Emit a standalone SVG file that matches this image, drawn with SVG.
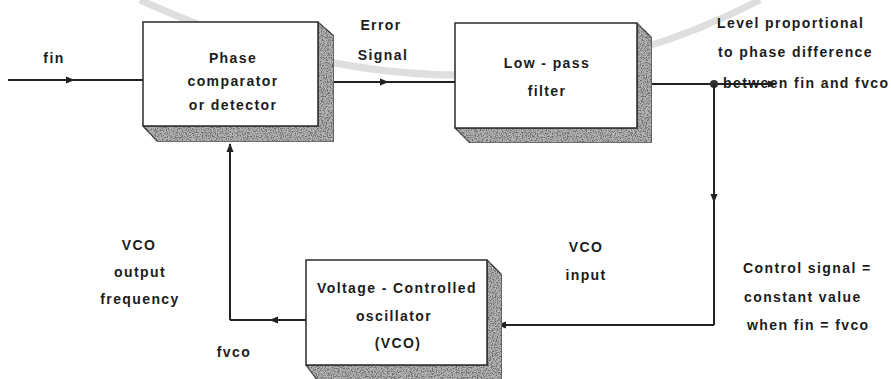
<svg xmlns="http://www.w3.org/2000/svg" width="891" height="379" viewBox="0 0 891 379">
<style>
.t{font-family:"Liberation Sans",Arial,sans-serif;font-size:14px;font-weight:bold;fill:#1c1c1c;letter-spacing:1.4px}
.c{text-anchor:middle}
.box{fill:#fff;stroke:#2a2a2a;stroke-width:1.5}
.shd{fill:#b4b4b4;stroke:#2a2a2a;stroke-width:1.2;filter:url(#speckle)}
.wire{fill:none;stroke:#222;stroke-width:2}
</style>
<defs>
<filter id="speckle" x="0" y="0" width="100%" height="100%">
<feTurbulence type="fractalNoise" baseFrequency="0.8" numOctaves="2" seed="7" result="n"/>
<feColorMatrix in="n" type="matrix" values="0 0 0 0 0.15  0 0 0 0 0.15  0 0 0 0 0.15  0 0 0 -4 2.3" result="d"/>
<feComposite in="d" in2="SourceGraphic" operator="in" result="dk"/>
<feMerge><feMergeNode in="SourceGraphic"/><feMergeNode in="dk"/></feMerge>
</filter>
<marker id="ah" markerWidth="10" markerHeight="8" refX="8" refY="4" orient="auto" markerUnits="userSpaceOnUse">
<path d="M0,0.5 L9,4 L0,7.5 Z" fill="#222"/>
</marker>
</defs>
<path d="M140,0 Q470,150 760,0" fill="none" stroke="#dedede" stroke-width="7"/>
<g id="connectors">
<path class="wire" d="M8,80 L74,80 L143,80" marker-mid="url(#ah)"/>
<path class="wire" d="M334,82 L388,82 L455,82" marker-mid="url(#ah)"/>
<path class="wire" d="M652,84 L776,84" marker-end="url(#ah)"/>
<circle cx="714" cy="84" r="4" fill="#333"/>
<path class="wire" d="M714,84 L714,202 L714,325" marker-mid="url(#ah)"/>
<path class="wire" d="M714,325 L498,325" marker-end="url(#ah)"/>
<path class="wire" d="M306,320 L270,320 L230,320" marker-mid="url(#ah)"/>
<path class="wire" d="M230,320 L230,144" marker-end="url(#ah)"/>
</g>
<g id="phase-comparator">
<path class="shd" d="M318,22 L334,36 L334,142 L158,142 L143,126 L318,126 Z"/>
<rect class="box" x="143" y="22" width="175" height="104"/>
<text class="t c" x="233" y="63">Phase</text>
<text class="t c" x="233" y="86">comparator</text>
<text class="t c" x="233" y="110">or detector</text>
</g>
<g id="low-pass-filter">
<path class="shd" d="M637,23 L652,38 L652,143 L470,143 L455,128 L637,128 Z"/>
<rect class="box" x="455" y="23" width="182" height="105"/>
<text class="t c" x="547" y="68">Low - pass</text>
<text class="t c" x="547" y="96">filter</text>
</g>
<g id="vco">
<path class="shd" d="M487,260 L502,275 L502,385 L321,385 L306,365 L487,365 Z"/>
<rect class="box" x="306" y="260" width="181" height="105"/>
<text class="t c" x="397" y="293">Voltage - Controlled</text>
<text class="t c" x="394" y="321">oscillator</text>
<text class="t c" x="398" y="348">(VCO)</text>
</g>
<g id="labels">
<text class="t c" x="54" y="63">fin</text>
<text class="t c" x="381" y="30">Error</text>
<text class="t c" x="383" y="60">Signal</text>
<text class="t" x="717" y="28">Level proportional</text>
<text class="t" x="718" y="57">to phase difference</text>
<text class="t" x="723" y="88">between fin and fvco</text>
<text class="t c" x="139" y="250">VCO</text>
<text class="t c" x="140" y="277">output</text>
<text class="t c" x="140" y="304">frequency</text>
<text class="t c" x="234" y="357">fvco</text>
<text class="t c" x="586" y="252">VCO</text>
<text class="t c" x="586" y="280">input</text>
<text class="t" x="743" y="273">Control signal =</text>
<text class="t" x="744" y="302">constant value</text>
<text class="t" x="747" y="330">when fin = fvco</text>
</g>
</svg>
